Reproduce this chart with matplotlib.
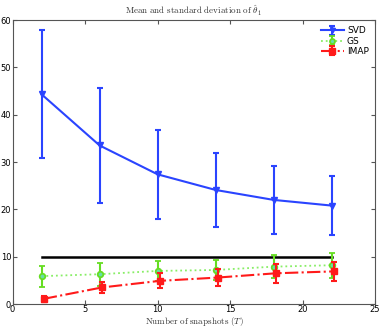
import numpy as np
import matplotlib
matplotlib.use('Agg')
import matplotlib.pyplot as plt

plt.rcParams['mathtext.fontset'] = 'cm'

# data
T = [2, 6, 10, 14, 18, 22]
T_imap = [2.15, 6.15, 10.15, 14.15, 18.15, 22.15]

svd_mean = [44.3, 33.5, 27.4, 24.1, 22.0, 20.8]
svd_std = [13.5, 12.2, 9.4, 7.9, 7.2, 6.2]

gs_mean = [5.9, 6.3, 7.0, 7.2, 7.9, 8.2]
gs_std = [2.2, 2.4, 2.1, 2.2, 2.5, 2.6]

imap_mean = [1.1, 3.5, 4.9, 5.6, 6.5, 6.9]
imap_std = [0.7, 1.2, 1.6, 1.8, 2.0, 2.0]

ref_x = [2, 22]
ref_y = [10, 10]

fig = plt.figure(figsize=(3.82, 3.28), dpi=100)
ax = fig.add_axes([0.033, 0.073, 0.949, 0.866])

ax.plot(ref_x, ref_y, color='black', lw=1.8, zorder=1)

ax.errorbar(T, svd_mean, yerr=svd_std, color='#2a44ff', lw=1.5, marker='v',
            ms=4, capsize=2.5, capthick=1.5, elinewidth=1.5, label='SVD', zorder=3)
ax.errorbar(T, gs_mean, yerr=gs_std, color='#88ee66', ls=':', lw=1.3, marker='o',
            ms=4, mfc='#66ddaa', mec='#66dd22', mew=1.3, ecolor='#66dd22',
            capsize=2.5, capthick=1.5, elinewidth=1.5, label='GS', zorder=2)
ax.errorbar(T_imap, imap_mean, yerr=imap_std, color='#ff1a1a', ls='-.', lw=1.5, marker='s',
            ms=4.5, capsize=2.5, capthick=1.5, elinewidth=1.5, label='IMAP', zorder=4)

ax.set_xlim(0, 25)
ax.set_ylim(0, 60)
ax.set_xticks(range(0, 26, 5))
ax.set_yticks(range(0, 61, 10))
ax.tick_params(direction='in', top=True, right=True, labelsize=6, length=3,
               color='#555555', pad=1)
for s in ax.spines.values():
    s.set_color('#555555')
    s.set_linewidth(0.8)

ax.set_title(r'$\mathrm{Mean\ and\ standard\ deviation\ of\ }\hat{\theta}_1$', fontsize=6.5, pad=4,
             color='#333333')
ax.set_xlabel(r'$\mathrm{Number\ of\ snapshots\ (}T\mathrm{)}$', fontsize=6.5, labelpad=0.5,
              color='#333333')

ax.legend(loc='upper right', frameon=False, fontsize=6.5, handlelength=2.6,
          borderaxespad=0.3, labelspacing=0.15, handletextpad=0.3, markerscale=0.9)

fig.savefig('out.png', dpi=100)
